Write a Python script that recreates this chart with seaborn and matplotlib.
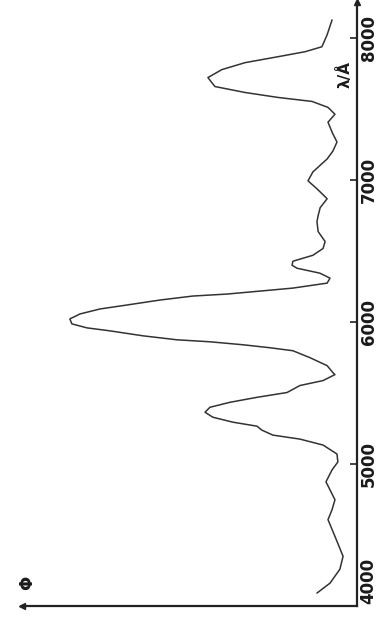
import numpy as np
import pandas as pd
import matplotlib
matplotlib.use("Agg")
import matplotlib.pyplot as plt
import matplotlib.transforms as mtransforms
import seaborn as sns

# wavelength (Angstrom) and relative intensity Phi
wavelength = [8126, 8021, 7937, 7902, 7867, 7825, 7776, 7720, 7657, 7615,
              7580, 7552, 7510, 7462, 7406, 7336, 7266, 7203, 7147, 7056,
              6993, 6937, 6867, 6804, 6748, 6706, 6636, 6566, 6517, 6469,
              6427, 6399, 6378, 6343, 6308, 6273, 6238, 6217, 6196, 6182,
              6154, 6119, 6091, 6056, 6021, 5986, 5958, 5937, 5902, 5874,
              5860, 5839, 5818, 5797, 5748, 5692, 5643, 5629, 5587, 5552,
              5503, 5469, 5434, 5399, 5364, 5329, 5294, 5266, 5238, 5203,
              5175, 5133, 5070, 5014, 4958, 4874, 4748, 4678, 4608, 4490,
              4350, 4259, 4161, 4091]
phi = [0.086, 0.103, 0.121, 0.179, 0.272, 0.386, 0.466, 0.514, 0.490, 0.386,
       0.272, 0.155, 0.100, 0.076, 0.100, 0.086, 0.069, 0.083, 0.103, 0.152,
       0.169, 0.138, 0.103, 0.127, 0.134, 0.138, 0.134, 0.110, 0.117, 0.152,
       0.221, 0.224, 0.207, 0.128, 0.093, 0.103, 0.221, 0.334, 0.448, 0.566,
       0.679, 0.793, 0.886, 0.955, 0.990, 0.983, 0.931, 0.852, 0.738, 0.621,
       0.507, 0.393, 0.300, 0.221, 0.162, 0.103, 0.083, 0.076, 0.117, 0.197,
       0.241, 0.345, 0.438, 0.507, 0.524, 0.497, 0.428, 0.345, 0.328, 0.290,
       0.197, 0.117, 0.069, 0.066, 0.086, 0.107, 0.076, 0.086, 0.100, 0.076,
       0.048, 0.059, 0.093, 0.138]
tick_values = [4000, 5000, 6000, 7000, 8000]
tick_labels = ["4000", "5000", "6000", "7000", "8000"]

df = pd.DataFrame({"lam": wavelength, "phi": phi})

sns.set_theme(style="white")
plt.rcParams["font.family"] = ["DejaVu Sans"]

fig = plt.figure(figsize=(3.77, 6.20), dpi=100)
ax = fig.add_axes([22/377, 14/620, 335/377, 604/620])

sns.lineplot(data=df, x="phi", y="lam", sort=False, estimator=None,
             orient="y", color="#333333", linewidth=1.1, ax=ax)
for ln in ax.lines:
    ln.set_solid_joinstyle("round")
    ln.set_solid_capstyle("round")

ax.set_xlim(1.155, 0)
ax.set_ylim(4028, 8252)
ax.set_xlabel("")
ax.set_ylabel("")
ax.set_xticks([])

ax.yaxis.tick_right()
ax.set_yticks(tick_values)
ax.set_yticklabels(["" if t == "4000" else t for t in tick_labels],
                   rotation=90, va="center", fontsize=12, fontweight="bold",
                   color="#1a1a1a")
ax.tick_params(axis="y", direction="in", length=5, width=1.2, pad=2,
               color="#222222", right=True, left=False)

for s in ["top", "left"]:
    ax.spines[s].set_visible(False)
for s in ["right", "bottom"]:
    ax.spines[s].set_color("#222222")
    ax.spines[s].set_linewidth(1.6)

# arrowheads
ax.plot(1, 1, marker="^", color="#222222", markersize=5,
        transform=ax.transAxes, clip_on=False)
ax.plot(0, 0, marker="<", color="#222222", markersize=5,
        transform=ax.transAxes, clip_on=False)

# 4000 label slightly raised from the corner, as in the reference
tr = mtransforms.blended_transform_factory(ax.transAxes, ax.transData)
ax.text(1.0, 4000, "4000", rotation=90, ha="left", va="center",
        fontsize=12, fontweight="bold", color="#1a1a1a",
        transform=tr + mtransforms.ScaledTranslation(0.026, 0.25, fig.dpi_scale_trans),
        clip_on=False)

ax.text(0.964, 7741, "λ/Å", rotation=90, ha="center", va="center",
        fontsize=11, fontweight="bold", color="#1a1a1a", transform=tr)
ax.text(0.015, 0.038, "Φ", rotation=90, ha="center", va="center",
        fontsize=12, fontweight="bold", color="#1a1a1a", transform=ax.transAxes)

fig.savefig("out.png", dpi=100)
